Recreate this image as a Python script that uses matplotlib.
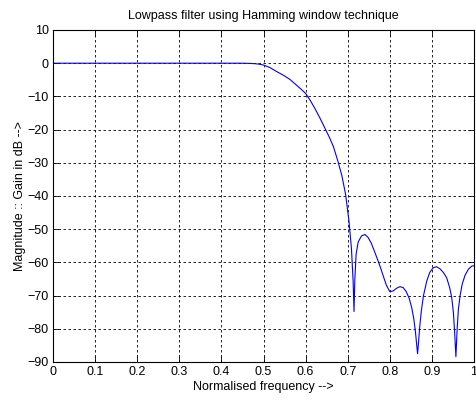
import matplotlib
matplotlib.use("Agg")
import matplotlib.pyplot as plt

plt.rcParams['font.family'] = ['Liberation Sans', 'DejaVu Sans']

freq = [0.0, 0.1, 0.2, 0.3, 0.4, 0.44, 0.46, 0.47, 0.48, 0.49, 0.5, 0.515, 0.531, 0.547,
        0.563, 0.58, 0.59, 0.6, 0.611, 0.622, 0.634, 0.646, 0.656, 0.666, 0.676, 0.686,
        0.695, 0.703, 0.709, 0.713, 0.715, 0.717, 0.72, 0.725, 0.733, 0.741, 0.748,
        0.756, 0.763, 0.77, 0.778, 0.785, 0.792, 0.8, 0.808, 0.816, 0.824, 0.832,
        0.839, 0.846, 0.852, 0.857, 0.861, 0.864, 0.866, 0.868, 0.871, 0.875, 0.88,
        0.888, 0.895, 0.903, 0.911, 0.919, 0.927, 0.935, 0.942, 0.947, 0.951, 0.954,
        0.957, 0.96, 0.963, 0.967, 0.972, 0.979, 0.987, 0.995, 1.0]
gain = [0.0, 0.0, 0.0, 0.0, 0.0, 0.0, -0.03, -0.08, -0.15, -0.3, -0.55, -1.3, -2.5, -3.6,
        -4.9, -6.8, -7.9, -9.1, -11.2, -13.6, -16.5, -19.6, -22.2, -25.1, -29.2, -33.8,
        -39.5, -47.5, -56.0, -66.0, -74.8, -65.0, -57.5, -53.8, -52.0, -51.6, -52.4,
        -54.2, -56.5, -58.8, -61.6, -64.3, -66.9, -68.8, -68.6, -67.8, -67.3, -67.6,
        -68.8, -70.8, -73.6, -77.0, -81.0, -85.0, -87.5, -84.5, -79.5, -74.5, -70.0,
        -65.5, -63.0, -61.6, -61.3, -61.9, -63.0, -64.6, -67.5, -70.5, -75.0, -81.0,
        -88.4, -80.0, -74.0, -70.0, -66.5, -63.8, -62.0, -61.1, -61.0]

xticks = [0, 0.1, 0.2, 0.3, 0.4, 0.5, 0.6, 0.7, 0.8, 0.9, 1]
xticklabels = ['0', '0.1', '0.2', '0.3', '0.4', '0.5', '0.6', '0.7', '0.8', '0.9', '1']
yticks = [-90, -80, -70, -60, -50, -40, -30, -20, -10, 0, 10]

fig = plt.figure(figsize=(4.76, 4.01), dpi=100)
ax = fig.add_axes([53/476, 39/401, 421/476, 332/401])
ax.plot(freq, gain, color='blue', linewidth=0.8)
ax.set_xlim(0, 1)
ax.set_ylim(-90, 10)
ax.set_xticks(xticks)
ax.set_xticklabels(xticklabels)
ax.set_yticks(yticks)
ax.grid(True, color='black', linestyle=(0, (3, 3)), linewidth=0.6)
ax.tick_params(direction='in', top=True, right=True, labelsize=9, length=4, width=0.6, pad=3)
for s in ax.spines.values():
    s.set_linewidth(0.8)
ax.set_title('Lowpass filter using Hamming window technique', fontsize=9, pad=8)
ax.set_xlabel('Normalised frequency -->', fontsize=9, labelpad=2)
ax.set_ylabel('Magnitude :: Gain in dB -->', fontsize=9, labelpad=1)
fig.savefig('out.png', dpi=100)
